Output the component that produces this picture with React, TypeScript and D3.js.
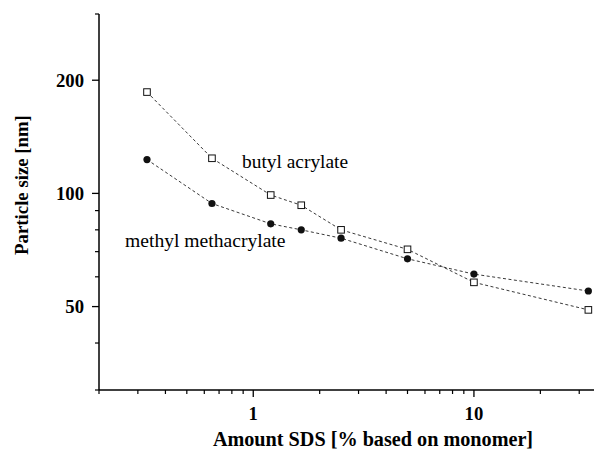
import React from "react";
import * as d3 from "d3";

// SDS amount (% based on monomer)
const sdsAmount = [0.33, 0.65, 1.2, 1.65, 2.5, 5, 10, 33];
// particle size (nm)
const butylAcrylate = [186, 124, 99, 93, 80, 71, 58, 49];
const methylMethacrylate = [123, 94, 83, 80, 76, 67, 61, 55];

const xMajor = [1, 10];
const xMinor = [0.2, 0.3, 0.4, 0.5, 0.6, 0.7, 0.8, 0.9, 2, 3, 4, 5, 6, 7, 8, 9, 20, 30];
const yMajor = [50, 100, 200];
const yMinor = [30, 40, 60, 70, 80, 90, 300];

const W = 594, H = 461;
const serif = { fontFamily: "Liberation Serif, Tinos, serif" };

export default function App() {
  const x = d3.scaleLog().domain([0.2, 35]).range([99, 594]);
  const y = d3.scaleLog().domain([30, 300]).range([390, 14]);

  const line = d3.line<number>()
    .x((_, i) => x(sdsAmount[i]))
    .y((d) => y(d));

  return (
    <svg width={W} height={H} style={{ position: "absolute", left: 0, top: 0, background: "#fff" }}>
      {/* axes */}
      <line x1={99} x2={99} y1={y(300)} y2={390} stroke="#000" strokeWidth={1.5} />
      <line x1={99} x2={594} y1={390} y2={390} stroke="#000" strokeWidth={1.5} />

      {yMajor.map((v) => (
        <g key={"ym" + v}>
          <line x1={92} x2={99} y1={y(v)} y2={y(v)} stroke="#000" strokeWidth={1.3} />
          <text x={84} y={y(v)} dy="0.34em" textAnchor="end" style={serif}
            fontWeight="bold" fontSize={18.7}>{v}</text>
        </g>
      ))}
      {yMinor.map((v) => (
        <line key={"yn" + v} x1={95} x2={99} y1={y(v)} y2={y(v)} stroke="#000" strokeWidth={1.2} />
      ))}

      {xMajor.map((v) => (
        <g key={"xm" + v}>
          <line x1={x(v)} x2={x(v)} y1={390} y2={397} stroke="#000" strokeWidth={1.3} />
          <text x={x(v)} y={419.5} textAnchor="middle" style={serif}
            fontWeight="bold" fontSize={18.7}>{v}</text>
        </g>
      ))}
      {xMinor.map((v) => (
        <line key={"xn" + v} x1={x(v)} x2={x(v)} y1={390} y2={394} stroke="#000" strokeWidth={1.2} />
      ))}

      {/* series */}
      <path d={line(butylAcrylate) || ""} fill="none" stroke="#222" strokeWidth={0.9} strokeDasharray="3,2.5" />
      <path d={line(methylMethacrylate) || ""} fill="none" stroke="#222" strokeWidth={0.9} strokeDasharray="3,2.5" />

      {methylMethacrylate.map((v, i) => (
        <circle key={"c" + i} cx={x(sdsAmount[i])} cy={y(v)} r={3.6} fill="#111" />
      ))}
      {butylAcrylate.map((v, i) => (
        <rect key={"s" + i} x={x(sdsAmount[i]) - 3.3} y={y(v) - 3.3} width={6.6} height={6.6}
          fill="#fff" stroke="#111" strokeWidth={1} />
      ))}

      {/* labels */}
      <text x={242} y={168} style={serif} fontSize={19.4}>butyl acrylate</text>
      <text x={125} y={247} style={serif} fontSize={19.6}>methyl methacrylate</text>

      <text x={373} y={446} textAnchor="middle" style={serif} fontWeight="bold" fontSize={20.2}>
        Amount SDS [% based on monomer]
      </text>
      <text transform="translate(28,185) rotate(-90)" textAnchor="middle" style={serif}
        fontWeight="bold" fontSize={18.8}>Particle size [nm]</text>
    </svg>
  );
}
